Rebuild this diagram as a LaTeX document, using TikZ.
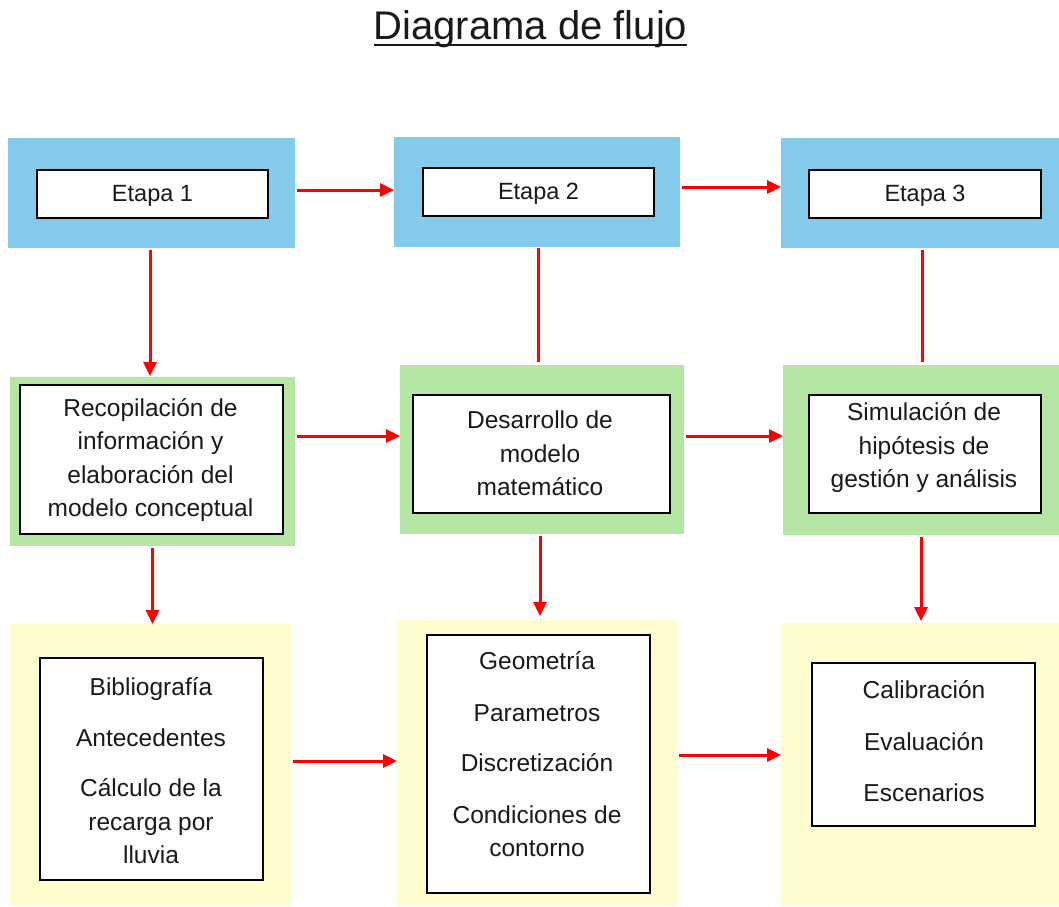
\documentclass[tikz,border=0pt]{standalone}
\usepackage{fontspec}
\setmainfont{Liberation Sans}
\usetikzlibrary{arrows.meta,calc}
\definecolor{bluebg}{HTML}{83CAEB}
\definecolor{greenbg}{HTML}{B4E5A2}
\definecolor{yellowbg}{HTML}{FFFCCD}
\definecolor{redarrow}{HTML}{FF0000}
\definecolor{txt}{HTML}{1A1A1A}
\begin{document}
\begin{tikzpicture}[x=1pt,y=-1pt,
  outerbox/.style={draw=none, inner sep=0pt, outer sep=0pt},
  innerbox/.style={draw=black, fill=white, line width=1.4pt, inner sep=0pt, outer sep=0pt},
  lbl/.style={text=txt, align=center, inner sep=0pt, font=\fontsize{24.5}{33.5}\selectfont},
  arr/.style={draw=redarrow, line width=3pt, shorten <=2pt, -{Triangle[length=14pt,width=13pt]}},
  plainline/.style={draw=redarrow, line width=3pt}
]
\useasboundingbox (0,0) rectangle (1059,906);
\fill[white] (0,0) rectangle (1059,906);

% title
\node[anchor=base, text=txt, inner sep=0pt, font=\fontsize{40}{42}\selectfont] (title) at (530.5,39) {Diagrama de flujo};
\draw[line width=1.5pt, txt] ($(title.base west)+(0,6)$) -- ($(title.base east)+(0,6)$);

% row 1
\node[outerbox, fill=bluebg, minimum width=287pt, minimum height=110pt] (b1) at (151.5,193) {};
\node[outerbox, fill=bluebg, minimum width=286pt, minimum height=110pt] (b2) at (537,192) {};
\node[outerbox, fill=bluebg, minimum width=278pt, minimum height=110pt] (b3) at (920,193) {};
\node[innerbox, minimum width=231pt, minimum height=48pt] (e1) at (152.5,194) {};
\node[innerbox, minimum width=231pt, minimum height=48pt] (e2) at (538.5,192) {};
\node[innerbox, minimum width=232pt, minimum height=48pt] (e3) at (925,194) {};
\node[lbl, font=\fontsize{23.5}{28}\selectfont] (t1) at ($(e1)+(0,2)$) {Etapa 1};
\node[lbl, font=\fontsize{23.5}{28}\selectfont] (t2) at ($(e2)+(0,2)$) {Etapa 2};
\node[lbl, font=\fontsize{23.5}{28}\selectfont] (t3) at ($(e3)+(0,2)$) {Etapa 3};

% row 2
\node[outerbox, fill=greenbg, minimum width=285pt, minimum height=169pt] (g1) at (152.5,461.5) {};
\node[outerbox, fill=greenbg, minimum width=284pt, minimum height=169pt] (g2) at (542,449.5) {};
\node[outerbox, fill=greenbg, minimum width=276pt, minimum height=170pt] (g3) at (921,450) {};
\node[innerbox, minimum width=263pt, minimum height=149pt] (i1) at (151.5,459.5) {};
\node[innerbox, minimum width=257pt, minimum height=118pt] (i2) at (541.5,454) {};
\node[innerbox, minimum width=232pt, minimum height=118pt] (i3) at (925,454) {};
\node[lbl] (s1) at (150.5,460) {Recopilación de\\información y\\elaboración del\\modelo conceptual};
\node[lbl] (s2) at (540,453.5) {Desarrollo de\\modelo\\matemático};
\node[lbl] (s3) at (924,448) {Simulación de\\hipótesis de\\gestión y análisis};

% row 3
\node[outerbox, fill=yellowbg, minimum width=281pt, minimum height=282pt] (y1) at (150.5,765) {};
\node[outerbox, fill=yellowbg, minimum width=280pt, minimum height=286pt] (y2) at (537,763) {};
\node[outerbox, fill=yellowbg, minimum width=278pt, minimum height=283pt] (y3) at (920,764.5) {};
\node[innerbox, minimum width=223pt, minimum height=222pt] (j1) at (151.5,769) {};
\node[innerbox, minimum width=223pt, minimum height=258pt] (j2) at (538.5,764) {};
\node[innerbox, minimum width=223pt, minimum height=163pt] (j3) at (923.5,744.5) {};
\node[lbl] (u1) at (151,771) {Bibliografía\\[17pt]Antecedentes\\[17pt]Cálculo de la\\recarga por\\lluvia};
\node[lbl] (u2) at (537,754.5) {Geometría\\[18pt]Parametros\\[17pt]Discretización\\[18pt]Condiciones de\\contorno};
\node[lbl] (u3) at (924,741) {Calibración\\[19pt]Evaluación\\[17pt]Escenarios};

% connectors
\draw[arr] (b1.east |- 0,190) -- (b2.west |- 0,190);
\draw[arr] (b2.east |- 0,187) -- (b3.west |- 0,187);
\draw[arr] ($(b1.south)+(-1.5,0)$) -- ($(b1.south |- g1.north)+(-1.5,-1)$);
\draw[plainline] ($(b2.south)+(1,1)$) -- ($(b2.south |- g2.north)+(1,-3)$);
\draw[plainline] ($(b3.south)+(2,2)$) -- ($(b3.south |- g3.north)+(2,-3)$);
\draw[arr] (g1.east |- 0,436) -- (g2.west |- 0,436);
\draw[arr] (g2.east |- 0,436) -- (g3.west |- 0,436);
\draw[arr] (g1.south) -- (g1.south |- y1.north);
\draw[arr] ($(g2.south)+(-2,0)$) -- ($(g2.south |- y2.north)+(-2,-4)$);
\draw[arr] (g3.south) -- ($(g3.south |- y3.north)+(0,-2)$);
\draw[arr] (y1.east |- 0,761) -- (y2.west |- 0,761);
\draw[arr] (y2.east |- 0,755) -- (y3.west |- 0,755);
\end{tikzpicture}
\end{document}
